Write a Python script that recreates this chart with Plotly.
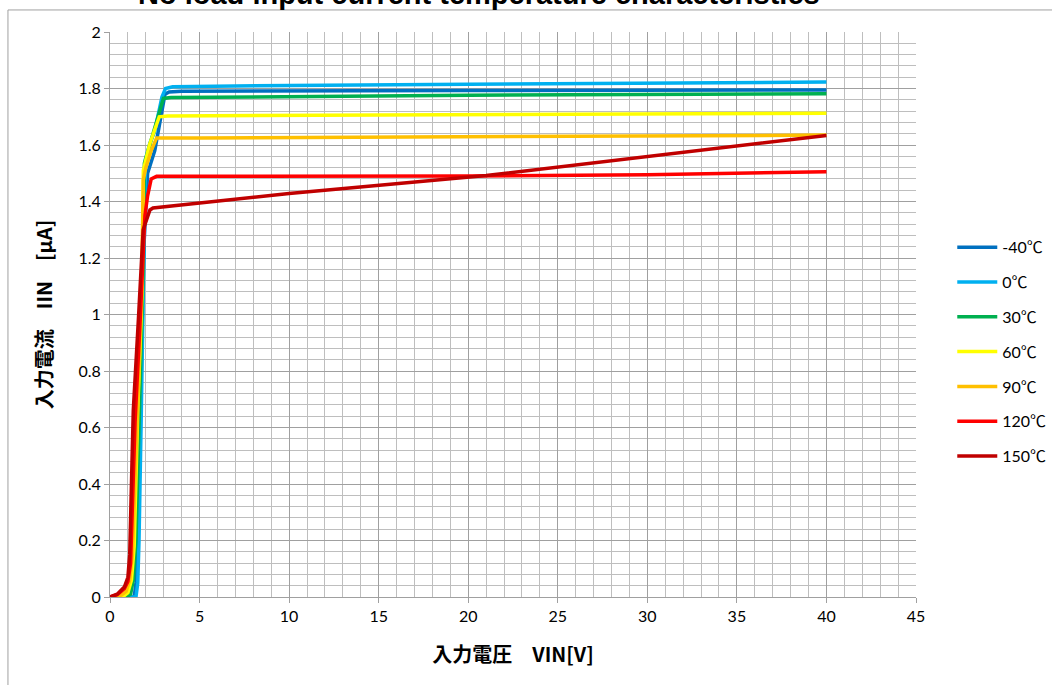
import plotly.graph_objects as go

names = ["-40℃", "0℃", "30℃", "60℃", "90℃", "120℃", "150℃"]
colors = ["#0070C0", "#00B0F0", "#00B050", "#FFFF00", "#FFC000", "#FF0000", "#C00000"]

vin_m40 = [0, 1.35, 1.45, 1.55, 1.7, 1.9, 2.1, 2.5, 3.07, 3.3, 4, 10, 20, 40]
iin_m40 = [0, 0, 0.05, 0.2, 0.66, 1.25, 1.5, 1.58, 1.78, 1.788, 1.79, 1.792, 1.793, 1.795]

vin_0 = [0, 1.45, 1.55, 1.62, 1.75, 1.92, 1.98, 2.23, 2.5, 2.9, 3.1, 3.5, 10, 20, 30, 40]
iin_0 = [0, 0, 0.05, 0.2, 0.66, 1.3, 1.55, 1.607, 1.65, 1.77, 1.80, 1.806, 1.811, 1.815, 1.818, 1.823]

vin_30 = [0, 0.9, 1.15, 1.3, 1.45, 1.62, 1.85, 1.92, 2.42, 2.98, 3.4, 10, 20, 40]
iin_30 = [0, 0, 0.01, 0.06, 0.2, 0.66, 1.15, 1.535, 1.64, 1.765, 1.768, 1.772, 1.776, 1.781]

vin_60 = [0, 0.7, 1.0, 1.2, 1.35, 1.55, 1.8, 1.86, 2.2, 2.75, 3.2, 10, 20, 40]
iin_60 = [0, 0, 0.015, 0.06, 0.18, 0.66, 1.1, 1.51, 1.6, 1.70, 1.703, 1.705, 1.707, 1.712]

vin_90 = [0, 0.5, 0.9, 1.1, 1.25, 1.5, 1.75, 1.86, 2.0, 2.3, 2.6, 5, 20, 40]
iin_90 = [0, 0.0, 0.02, 0.06, 0.15, 0.62, 1.05, 1.476, 1.52, 1.58, 1.625, 1.625, 1.628, 1.635]

vin_120 = [0, 0.4, 0.8, 1.0, 1.15, 1.4, 1.7, 1.95, 2.1, 2.3, 2.6, 5, 10, 20, 30, 40]
iin_120 = [0, 0.008, 0.03, 0.055, 0.12, 0.62, 1.0, 1.35, 1.42, 1.48, 1.489, 1.489, 1.489, 1.490, 1.495, 1.505]

vin_150 = [0, 0.4, 0.8, 1.0, 1.1, 1.3, 1.6, 1.85, 2.04, 2.23, 2.4, 10, 21, 33, 40]
iin_150 = [0, 0.01, 0.035, 0.07, 0.15, 0.66, 1.0, 1.3, 1.335, 1.37, 1.377, 1.428, 1.492, 1.583, 1.634]

series_x = [vin_m40, vin_0, vin_30, vin_60, vin_90, vin_120, vin_150]
series_y = [iin_m40, iin_0, iin_30, iin_60, iin_90, iin_120, iin_150]

x_ticks = [0, 5, 10, 15, 20, 25, 30, 35, 40, 45]
y_ticks = [0, 0.2, 0.4, 0.6, 0.8, 1, 1.2, 1.4, 1.6, 1.8, 2]

fig = go.Figure()
for n, c, xs, ys in zip(names, colors, series_x, series_y):
    fig.add_trace(go.Scatter(x=xs, y=ys, name=n, mode="lines",
                             line=dict(color=c, width=3.5), legendgroup=n))

font_main = "Lato, 'Noto Sans CJK JP', sans-serif"
cjk = "'Noto Sans CJK JP', sans-serif"
fig.update_layout(
    width=1052, height=685,
    margin=dict(l=110, r=136, t=32, b=88, autoexpand=False),
    paper_bgcolor="white", plot_bgcolor="white",
    font=dict(family=font_main, size=16, color="#000000"),
    showlegend=True,
    legend=dict(x=1.045, y=0.434, xanchor="left", yanchor="middle",
                tracegroupgap=11, font=dict(size=16), itemwidth=40,
                bgcolor="rgba(0,0,0,0)"),
    xaxis=dict(range=[0, 45], tickvals=x_ticks, ticktext=[str(v) for v in x_ticks],
               automargin=False,
               showgrid=True, gridcolor="#A0A0A0", gridwidth=1,
               minor=dict(dtick=1, showgrid=True, gridcolor="#BEBEBE", gridwidth=1),
               showline=True, linecolor="#A0A0A0", linewidth=1,
               ticks="outside", ticklen=5, tickcolor="#A0A0A0",
               zeroline=False,
               title=dict(text="<b>入力電圧　VIN[V]</b>", standoff=23,
                          font=dict(family=cjk, size=20))),
    yaxis=dict(range=[0, 2], tickvals=y_ticks, ticktext=[f"{v:g}" for v in y_ticks],
               automargin=False,
               showgrid=True, gridcolor="#A0A0A0", gridwidth=1,
               minor=dict(dtick=0.04, showgrid=True, gridcolor="#BEBEBE", gridwidth=1),
               showline=True, linecolor="#A0A0A0", linewidth=1,
               ticks="outside", ticklen=5, tickcolor="#A0A0A0",
               zeroline=False,
               title=dict(text="<b>入力電流　IIN　[μA]</b>", standoff=20,
                          font=dict(family=cjk, size=20))),
)

fig.add_annotation(text="<b>No load input current temperature characteristics</b>",
                   xref="paper", yref="paper", x=0.458, y=1.035,
                   xanchor="center", yanchor="bottom", showarrow=False,
                   font=dict(family="'Liberation Sans', Arial, sans-serif", size=29, color="#000"))

fig.add_shape(type="rect", xref="paper", yref="paper",
              x0=-0.1266, y0=-0.2, x1=1.2, y1=1.039,
              line=dict(color="#A0A0A0", width=1), layer="below")

fig.write_html("out.html", config={"displayModeBar": False},
               post_script="document.body.style.margin='0px';document.body.style.overflow='hidden';")
